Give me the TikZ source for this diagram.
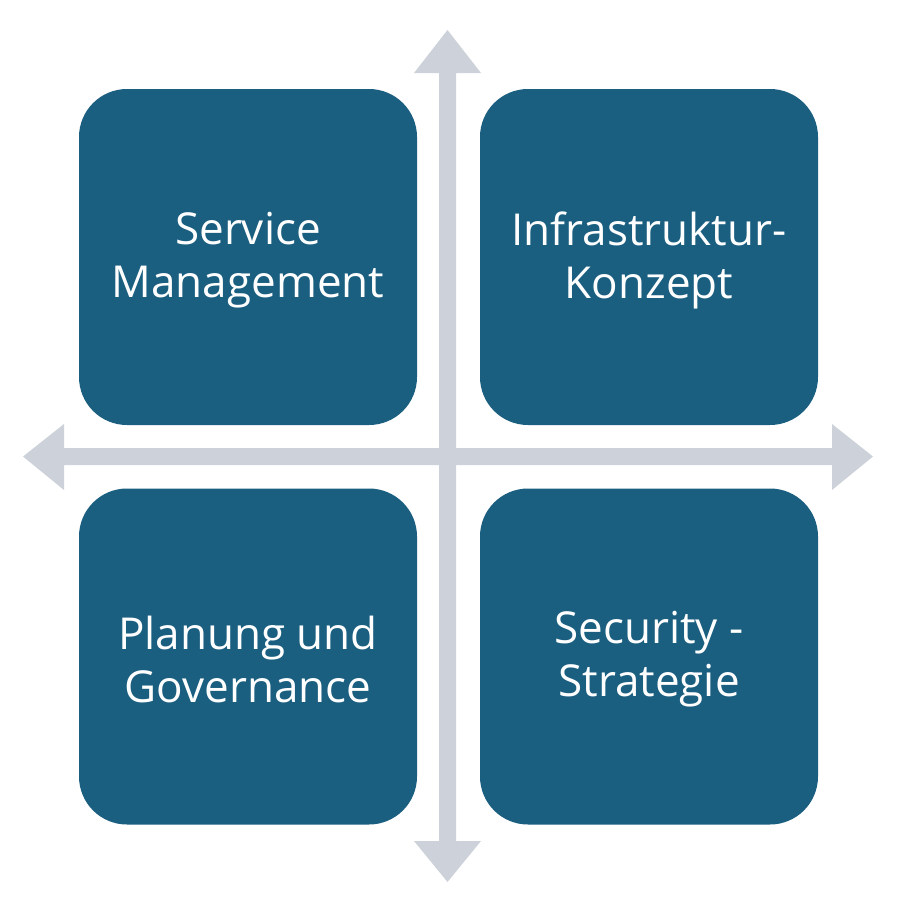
\documentclass[tikz,border=0pt]{standalone}
\usepackage{fontspec}
\setmainfont{Open Sans}
\definecolor{boxblue}{RGB}{26,94,128}
\definecolor{axisgray}{RGB}{205,210,218}
\begin{document}
\begin{tikzpicture}[x=1pt,y=-1pt,
  quad/.style={fill=boxblue, draw=none, rounded corners=48pt, minimum width=338pt, minimum height=336pt, inner sep=0pt},
  quadtext/.style={text=white, align=center, inner sep=0pt, font=\fontsize{44}{53}\selectfont},
  axis/.style={fill=axisgray, draw=none}]
\useasboundingbox (0,0) rectangle (904,906);
\fill[white] (0,0) rectangle (904,906);
% axes
\path[axis] (439,73)--(414,73)--(447.5,30)--(481,73)--(456,73)--(456,841)--(481,841)--(447.5,882)--(414,841)--(439,841)--cycle;
\path[axis] (64,448)--(64,424)--(23,456.5)--(64,490)--(64,465)--(832,465)--(832,490)--(873,456.5)--(832,424)--(832,448)--cycle;
% quadrants
\node[quad] (tl) at (248,257) {};
\node[quad] (tr) at (649,257) {};
\node[quad] (bl) at (248,656.5) {};
\node[quad] (br) at (649,656.5) {};
\node[quadtext] (tlt) at ([yshift=-3pt]tl.center) {Service\\Management};
\node[quadtext] (trt) at ([yshift=-3pt]tr.center) {Infrastruktur-\\Konzept};
\node[quadtext] (blt) at ([yshift=-3pt]bl.center) {Planung und\\Governance};
\node[quadtext] (brt) at ([yshift=-3pt]br.center) {Security -\\Strategie};
\end{tikzpicture}
\end{document}
